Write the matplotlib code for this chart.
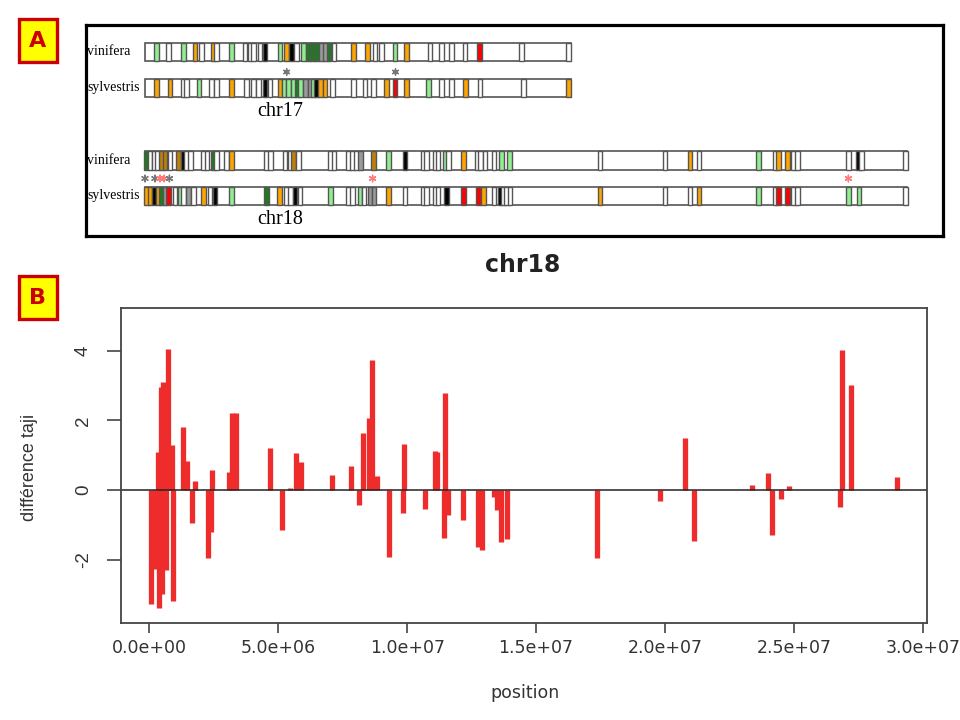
import numpy as np
import matplotlib
matplotlib.use("Agg")
import matplotlib.pyplot as plt
from matplotlib.patches import Rectangle

# ---------- panel A : chromosome schematics (positions in Mb) ----------
chr17_len = 16.74
chr18_len = 29.98

chr17_vin_pos = [0.46, 0.92, 1.51, 1.97, 2.23, 2.69, 2.82, 3.41, 3.93, 4.13,
                 4.26, 4.52, 4.72, 5.31, 5.57, 5.77, 5.96, 6.23, 6.42, 6.58,
                 6.75, 6.95, 7.10, 7.24, 7.43, 8.19, 8.74, 9.04, 9.31, 9.83,
                 10.29, 11.21, 11.67, 12.06, 12.58, 13.15, 14.81, 16.65]
chr17_vin_col = ("g w g o w o w g w w "
                 "w w k g o k w g G G "
                 "G y y G w o o w w g "
                 "o w w w w r w w").split()

chr17_syl_pos = [0.46, 0.98, 1.51, 1.64, 2.12, 2.62, 2.82, 3.41, 4.00, 4.26,
                 4.46, 4.72, 4.92, 5.31, 5.47, 5.64, 5.83, 5.99, 6.12, 6.32,
                 6.49, 6.62, 6.75, 6.91, 7.08, 7.37, 8.19, 8.65, 8.98, 9.50,
                 9.83, 10.29, 11.14, 11.67, 12.06, 12.61, 13.17, 14.88, 16.65]
chr17_syl_col = ("o o w w g w w o w w "
                 "w k w o g g g G g y "
                 "y g k o o w w w w o "
                 "r o g w w o w w o").split()

chr18_vin_pos = [0.05, 0.20, 0.35, 0.49, 0.66, 0.79, 0.98, 1.31, 1.51, 1.64,
                 1.80, 2.29, 2.43, 2.69, 2.82, 3.21, 3.41, 4.78, 4.94, 5.51,
                 5.70, 5.83, 6.03, 7.30, 7.43, 8.00, 8.15, 8.32, 8.48, 8.98,
                 9.57, 10.22, 10.94, 11.08, 11.40, 11.53, 11.80, 11.93, 12.52, 13.07,
                 13.20, 13.37, 13.72, 14.03, 14.33, 17.89, 20.45, 21.43, 21.79, 24.12,
                 24.77, 24.91, 25.27, 25.50, 25.65, 27.66, 28.05, 28.18, 29.90]
chr18_vin_col = ("G w w w b b w b k w "
                 "w w w G w w o w w w "
                 "w b w w w w w w y b "
                 "g k w w w w g w o w "
                 "w w w g g w w o w g "
                 "w o o w w w k w w").split()

chr18_syl_pos = [0.05, 0.20, 0.35, 0.52, 0.66, 0.79, 0.92, 1.18, 1.38, 1.51,
                 1.70, 1.90, 2.29, 2.56, 2.75, 3.41, 4.78, 5.28, 5.57, 5.73,
                 5.90, 6.10, 7.30, 8.00, 8.15, 8.45, 8.61, 8.85, 9.00, 9.57,
                 10.22, 10.94, 11.08, 11.40, 11.53, 11.86, 12.52, 13.11, 13.30, 13.72,
                 13.96, 14.09, 14.22, 14.35, 17.89, 20.45, 21.43, 21.79, 24.12, 24.77,
                 24.91, 25.27, 25.50, 25.65, 27.66, 28.07, 29.90]
chr18_syl_col = ("o o k o G y r w g w "
                 "y w o w k g G o w w "
                 "k w g w w g w y y o "
                 "w w w w w k r r o w "
                 "k w w w o w w o g w "
                 "r r w w g g w").split()

chr17_star_pos = [5.57, 9.85]
chr17_star_col = ["s", "s"]
chr18_star_pos = [0.00, 0.39, 0.59, 0.75, 0.96, 8.95, 27.66]
chr18_star_col = ["s", "s", "R", "R", "s", "R", "R"]

band_colors = {"w": "white", "o": "#FFA500", "g": "#90EE90", "G": "#1E7B1E",
               "r": "#FF0000", "k": "#000000", "y": "#9A9A9A", "b": "#C07F08",
               "R": "#FF7A7A", "s": "#777777"}

# ---------- panel B : Tajima D difference along chr18 ----------
pos_mb = [0.07, 0.21, 0.32, 0.36, 0.44, 0.50, 0.54, 0.64, 0.71, 0.87,
          0.92, 1.32, 1.46, 1.65, 1.77, 2.27, 2.39, 2.43, 3.07, 3.22,
          3.36, 4.68, 5.14, 5.45, 5.69, 5.88, 7.10, 7.82, 8.13, 8.27,
          8.52, 8.65, 8.82, 9.29, 9.84, 9.88, 10.69, 11.08, 11.16, 11.43,
          11.47, 11.58, 12.16, 12.75, 12.90, 13.37, 13.48, 13.64, 13.87, 17.38,
          19.79, 20.76, 21.12, 23.39, 24.01, 24.15, 24.50, 24.80, 26.80, 26.85,
          27.22, 29.00]
taji_diff = [-3.26, -2.28, 1.10, -3.40, 2.97, -3.00, 3.10, -2.30, 4.05, 1.30,
             -3.20, 1.82, 0.84, -0.95, 0.25, -1.96, -1.20, 0.58, 0.53, 2.20,
             2.22, 1.20, -1.15, 0.05, 1.06, 0.80, 0.43, 0.69, -0.43, 1.63,
             2.07, 3.75, 0.40, -1.92, -0.65, 1.32, -0.53, 1.13, 1.10, -1.38,
             2.80, -0.72, -0.87, -1.63, -1.73, -0.19, -0.57, -1.50, -1.40, -1.95,
             -0.31, 1.49, -1.47, 0.14, 0.48, -1.29, -0.26, 0.13, -0.48, 4.03,
             3.03, 0.38]

W, H = 960, 720
fig = plt.figure(figsize=(W / 100, H / 100), dpi=100)


def px_axes(x0, y0, x1, y1):
    return fig.add_axes([x0 / W, 1 - y1 / H, (x1 - x0) / W, (y1 - y0) / H])


# panel A frame, x in Mb (145 px -> 0 Mb, 25.43 px per Mb), y in pixel rows
axA = px_axes(86, 25, 943, 236)
axA.set_xlim((86 - 145) / 25.43, (943 - 145) / 25.43)
axA.set_ylim(236, 25)
axA.set_xticks([])
axA.set_yticks([])
for s in axA.spines.values():
    s.set_linewidth(2.3)
    s.set_color("black")

serif = "Liberation Serif"
band_w = 0.18
edge = "#555555"


def draw_chrom(length, pos, cols, ytop, h=18.5):
    axA.add_patch(Rectangle((0, ytop), length, h, facecolor="white",
                            edgecolor=edge, lw=1.2))
    for p, c in zip(pos, cols):
        axA.add_patch(Rectangle((p - band_w / 2, ytop), band_w, h,
                                facecolor=band_colors[c], edgecolor=edge, lw=1.0))


draw_chrom(chr17_len, chr17_vin_pos, chr17_vin_col, 43)
draw_chrom(chr17_len, chr17_syl_pos, chr17_syl_col, 79)
draw_chrom(chr18_len, chr18_vin_pos, chr18_vin_col, 151)
draw_chrom(chr18_len, chr18_syl_pos, chr18_syl_col, 186.5)

# significance stars as six-armed asterisk markers
axA.scatter(chr17_star_pos, [72] * len(chr17_star_pos), marker=(6, 2, 0), s=22,
            linewidths=1.0, c=[band_colors[c] for c in chr17_star_col])
axA.scatter(chr18_star_pos, [178.5] * len(chr18_star_pos), marker=(6, 2, 0), s=22,
            linewidths=1.0, c=[band_colors[c] for c in chr18_star_col])

lab_x = (87 - 145) / 25.43
for yc, name in [(52, "vinifera"), (88, "sylvestris"), (160, "vinifera"), (195.5, "sylvestris")]:
    axA.text(lab_x, yc, name, family=serif, fontsize=10, ha="left", va="center")
axA.text((280 - 145) / 25.43, 112, "chr17", family=serif, fontsize=14.5, ha="center", va="center")
axA.text((280 - 145) / 25.43, 220, "chr18", family=serif, fontsize=14.5, ha="center", va="center")

# panel B
axB = px_axes(121, 307.7, 927, 623)
axB.vlines(np.array(pos_mb) * 1e6, 0, taji_diff, color="#EE2C2C", lw=3.8)
axB.axhline(0, color="#222222", lw=1.1)
axB.set_xlim(-1.10e6, 30.16e6)
axB.set_ylim(-3.82, 5.24)
xt = np.arange(0, 3.01e7, 5e6)
axB.set_xticks(xt)
axB.set_xticklabels([f"{v:.1e}" for v in xt], fontsize=12.5, color="#333333")
axB.set_yticks([-2, 0, 2, 4])
axB.set_yticklabels(["-2", "0", "2", "4"], rotation=90, va="center",
                    family="Liberation Sans", fontsize=13.5, color="#333333")
axB.tick_params(axis="x", direction="out", length=7.5, width=1.2, color="#444444", pad=4)
axB.tick_params(axis="y", direction="out", length=10, width=1.2, color="#444444", pad=11)
for s in axB.spines.values():
    s.set_linewidth(1.3)
    s.set_color("#444444")

fig.text(523 / W, 1 - 265 / H, "chr18", fontsize=17, fontweight="bold",
         color="#222222", ha="center", va="center")
fig.text(525 / W, 1 - 693 / H, "position", fontsize=12.5, color="#333333",
         ha="center", va="center")
fig.text(29 / W, 1 - 467 / H, "différence taji", family="Liberation Sans",
         fontsize=13, color="#333333", rotation=90, ha="center", va="center")

# A / B tags
overlay = fig.add_axes([0, 0, 1, 1], facecolor="none")
overlay.set_xlim(0, W)
overlay.set_ylim(H, 0)
overlay.axis("off")
for tag, y0 in [("A", 19), ("B", 276)]:
    overlay.add_patch(Rectangle((18.5, y0), 38.5, 43, facecolor="#FFFF00",
                                edgecolor="#CC0000", lw=2.4))
    overlay.text(37.75, y0 + 22, tag, fontsize=16, fontweight="bold",
                 color="#CC0000", ha="center", va="center")

fig.savefig("out.png", dpi=100)
